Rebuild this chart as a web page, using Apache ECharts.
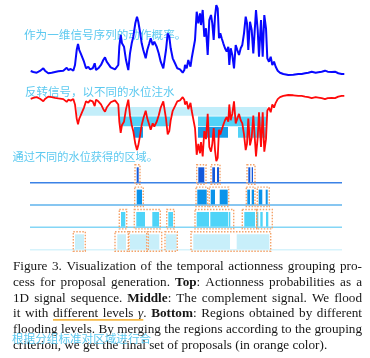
<!DOCTYPE html>
<html><head><meta charset="utf-8">
<script src="https://cdn.jsdelivr.net/npm/echarts@6/dist/echarts.min.js"></script>
<style>html,body{margin:0;padding:0;background:#fff}#c{width:370px;height:358px}</style>
</head><body><div id="c"></div>
<script>
// ---- data ----
const timeSteps = [0.7,3.3,6.7,10,13.3,15,18.3,21.7,25,28.3,30,33.3,36.7,38.3,40.7,43.3,45,46.7,48,49.3,50.7,52.7,54,56,58.3,60,62.7,64.7,66,68.3,71,73.3,75,76.7,78.7,80.7,82.7,85,86.7,88.3,89.3,90.7,92,94,96,98.3,100,101.7,103.3,105.3,107,108.3,110,111.7,113.3,115.7,117.3,119.3,120.7,122.7,124.3,126.7,128.7,130.7,133.3,136,137.7,139.3,140.7,142.7,145,147.3,150,152.7,154.3,155,156.7,158.3,159.3,160.5,161.7,163.3,165,166.7,168.3,170,171,172.7,174.3,176,177.7,179.3,181,182.3,183.7,185,186.3,187.7,189,190.3,191.7,193.3,195,196.7,198.3,199.3,200.7,202.3,204,205.7,207.3,209,210.7,212.3,214,215.7,217,218.3,220,221.7,223.3,226,227.7,229,231,232.7,234.3,236,237.3,239,240.7,242.3,244,245.7,247.7,250,253.3,258.3,263.3,268.3,271.7,275,278.3,281.7,283.3,285.7,288.3,291.7,295,297.7,301.7,305,308.3,311.7,314.3];
const actionness = [0.056,0.042,0.032,0.056,0.093,0.06,0.024,0.032,0.042,0.051,0.032,0.06,0.101,0.069,0.083,0.06,0.139,0.347,0.431,0.347,0.301,0.324,0.185,0.093,0.115,0.079,0.093,0.163,0.069,0.093,0.139,0.208,0.246,0.185,0.163,0.107,0.093,0.079,0.06,0.139,0.393,0.556,0.44,0.393,0.208,0.069,0.301,0.44,0.532,0.718,0.81,0.74,0.601,0.44,0.347,0.232,0.347,0.44,0.51,0.417,0.463,0.393,0.301,0.185,0.093,0.347,0.579,0.532,0.371,0.232,0.163,0.093,0.079,0.032,0.069,0.139,0.093,0.208,0.222,0.115,0.232,0.254,0.486,0.879,0.718,0.857,0.694,0.903,0.532,0.649,0.278,0.764,0.833,0.718,0.486,0.81,0.972,0.926,0.51,0.579,0.51,0.44,0.371,0.324,0.393,0.139,0.371,0.278,0.093,0.417,0.347,0.278,0.371,0.417,0.579,0.81,0.718,0.347,0.74,0.625,0.301,0.903,0.625,0.254,0.764,0.254,0.833,0.649,0.232,0.185,0.254,0.139,0.185,0.115,0.06,0.032,0.014,0,0.004,0.014,0.014,0.024,0.032,0.046,0.069,0.032,0.038,0.046,0.06,0.046,0.042,0.046,0.024,0.014,0.014];

// flooding levels (on the complement signal) and flooded extents per level
const floodLevels = [0.176, 0.316, 0.47, 0.64];
const waterLevel1 = [[47,237]];
const waterLevel2 = [[90,140],[168,237]];
const waterLevel3 = [[104,113],[168,198]];
const waterLevel3Shallow = [[208,237]];

// regions per flooding level (row 1 = highest level)
const regionsRow1 = [[106.7,108.7],[168.3,174.3],[182.3,185],[187,189],[218.3,220.3],[221.7,223]];
const regionsRow2 = [[106.7,112],[167.3,176.7],[180.7,185],[189.7,197.7],[217.3,220],[221.7,224],[228.7,232.3],[235.7,237.7]];
const regionsRow3 = [[91,95.3],[106.3,115],[122.3,129],[138.3,143],[166.7,179],[180.3,198.3],[199,200.3],[214.3,225],[226.7,228.3],[230.3,232.7],[236,238.3]];
const regionsRow4 = [[45,54],[87.3,96],[100,117.3],[117.7,129.3],[136,146.7],[163.3,200],[206.7,239.3]];
// merged proposals (orange)
const proposalsRow1 = [[105,110],[166.7,176],[181,190],[217,225]];
const proposalsRow2 = [[104.7,113.3],[166,177.7],[179.3,198.7],[216.3,225],[227.3,239.3]];
const proposalsRow3 = [[89.3,96.7],[104.3,130.3],[136.7,144.3],[165,203.7],[212.3,226.7],[226.7,242.3]];
const proposalsRow4 = [[43.3,55.3],[85,98.3],[99,118.3],[116.7,131.7],[135,147.3],[161,240.7]];

const cnTop = '作为一维信号序列的动作概率。';
const cnMid = '反转信号，以不同的水位注水';
const cnBot = '通过不同的水位获得的区域。';
const cnCap = '根据分组标准对区域进行合';
const captionLines = [
  'Figure 3. Visualization of the temporal actionness grouping pro-',
  'cess for proposal generation. *Top*: Actionness probabilities as a',
  '1D signal sequence. *Middle*: The complement signal. We flood',
  'it with ^different levels _γ_^. *Bottom*: Regions obtained by different',
  'flooding levels. By merging the regions according to the grouping',
  'criterion, we get the final set of proposals (in orange color).'
];

// ---- styles ----
const rowBarColors = ['#1458da', '#0b93ea', '#4fd4f8', '#c8effa'];
const rowLineColors = ['#3b82e6', '#5fb3ec', '#84d6f6', '#d6f3fc'];
const waterColors = ['#c3eefa', '#52d2f7', '#179de8'];
const BAR_H = 0.69;

const chart = echarts.init(document.getElementById('c'), null, {renderer: 'canvas'});

const series = [];
series.push({type:'line', xAxisIndex:0, yAxisIndex:0, data: timeSteps.map((t,i)=>[t, actionness[i]]),
  symbol:'none', lineStyle:{color:'#0808ff', width:2}, z:3, silent:true});
// water rectangles: [topLevel, bottomLevel, t0, t1, colorIndex]
const waterData = [];
waterLevel1.forEach(s => waterData.push([floodLevels[0], floodLevels[1], s[0], s[1], 0]));
waterLevel2.forEach(s => waterData.push([floodLevels[1], floodLevels[2], s[0], s[1], 1]));
waterLevel3.forEach(s => waterData.push([floodLevels[2], floodLevels[3], s[0], s[1], 2]));
waterLevel3Shallow.forEach(s => waterData.push([floodLevels[2], floodLevels[3], s[0], s[1], 1]));
series.push({type:'custom', xAxisIndex:1, yAxisIndex:1, z:1, silent:true, data: waterData,
  renderItem:(p, api) => { const a = api.coord([api.value(2), api.value(0)]); const b = api.coord([api.value(3), api.value(1)]);
    return {type:'rect', shape:{x:a[0], y:a[1], width:b[0]-a[0], height:b[1]-a[1]-0.8}, style:{fill: waterColors[api.value(4)]}}; }});
series.push({type:'line', xAxisIndex:1, yAxisIndex:1, data: timeSteps.map((t,i)=>[t, actionness[i]]),
  symbol:'none', lineStyle:{color:'#ff0a0a', width:1.8}, z:3, silent:true});

// bottom rows
const rows = [regionsRow1, regionsRow2, regionsRow3, regionsRow4];
const props = [proposalsRow1, proposalsRow2, proposalsRow3, proposalsRow4];
const lineData = [[1,0,312],[2,0,312],[3,0,312],[4,0,312]];
series.push({type:'custom', xAxisIndex:2, yAxisIndex:2, z:2, silent:true, data: lineData,
  renderItem:(p, api) => { const r = api.value(0); const a = api.coord([api.value(1), r]); const b = api.coord([api.value(2), r]);
    return {type:'line', shape:{x1:a[0], y1:a[1], x2:b[0], y2:b[1]}, style:{stroke: rowLineColors[r-1], lineWidth:1.5}}; }});
const barData = []; rows.forEach((arr, ri) => arr.forEach(s => barData.push([ri+1, s[0], s[1]])));
series.push({type:'custom', xAxisIndex:2, yAxisIndex:2, z:3, silent:true, data: barData,
  renderItem:(p, api) => { const r = api.value(0); const a = api.coord([api.value(1), r - BAR_H]); const b = api.coord([api.value(2), r]);
    return {type:'rect', shape:{x:a[0], y:a[1], width:b[0]-a[0], height:b[1]-a[1]-0.7}, style:{fill: rowBarColors[r-1]}}; }});
const propData = []; props.forEach((arr, ri) => arr.forEach(s => propData.push([ri+1, s[0], s[1]])));
series.push({type:'custom', xAxisIndex:2, yAxisIndex:2, z:4, silent:true, data: propData,
  renderItem:(p, api) => { const r = api.value(0); const a = api.coord([api.value(1), r - BAR_H]); const b = api.coord([api.value(2), r]);
    return {type:'rect', shape:{x:a[0], y:a[1]-2.5, width:b[0]-a[0], height:b[1]-a[1]+4}, style:{fill:'none', stroke:'#f4a36a', lineWidth:1.4, lineDash:[1.5,1.5]}}; }});

// ---- caption layout (justified) ----
const CAP_FONT = '"Liberation Serif", "Times New Roman", serif';
const CAP_SIZE = 13.2;
function fontOf(seg){ return (seg.italic?'italic ':'') + (seg.bold?'bold ':'') + CAP_SIZE + 'px ' + CAP_FONT; }
const graphics = [];
(function(){
  const ctx = document.createElement('canvas').getContext('2d');
  const left = 13, right = 362, top0 = 266.5, gapY = 15.8;
  captionLines.forEach((line, li) => {
    const st = {bold:false, italic:false, under:false};
    const words = line.split(' ').map(w => {
      const segs = []; let cur = '';
      const flush = () => { if (cur) { segs.push({text:cur, bold:st.bold, italic:st.italic, under:st.under}); cur=''; } };
      for (const ch of w) {
        if (ch === '*') { flush(); st.bold = !st.bold; }
        else if (ch === '_') { flush(); st.italic = !st.italic; }
        else if (ch === '^') { flush(); st.under = !st.under; }
        else cur += ch;
      }
      flush(); return segs;
    });
    const width = s => { ctx.font = fontOf(s); return ctx.measureText(s.text).width; };
    const wW = words.map(w => w.reduce((a,s)=>a+width(s),0));
    const total = wW.reduce((a,b)=>a+b,0);
    ctx.font = fontOf({}); const sp = ctx.measureText(' ').width;
    const last = li === captionLines.length-1;
    const gap = last ? sp : (right-left-total)/(words.length-1);
    let x = left; const y = top0 + li*gapY; let ux0 = null, ux1 = null;
    words.forEach(w => { w.forEach(s => {
      graphics.push({type:'text', z:5, silent:true, style:{text:s.text, x:x, y:y, font:fontOf(s), fill:'#161616', verticalAlign:'middle', textVerticalAlign:'middle'}});
      const ww = width(s); if (s.under) { if (ux0===null) ux0 = x; ux1 = x+ww; } x += ww; }); x += gap; });
    if (ux0 !== null) graphics.push({type:'line', z:5, silent:true, shape:{x1:ux0, y1:y+6, x2:ux1, y2:y+6}, style:{stroke:'#f6b845', lineWidth:1.6}});
  });
})();
const CN_FONT = '"Noto Sans CJK SC", sans-serif';
graphics.push({type:'text', z:1, silent:true, style:{text:cnTop, x:24, y:35, font:'11.6px '+CN_FONT, fill:'#5cc9f0', verticalAlign:'middle', textVerticalAlign:'middle'}});
graphics.push({type:'text', z:1, silent:true, style:{text:cnMid, x:25, y:92, font:'11.5px '+CN_FONT, fill:'#5cc9f0', verticalAlign:'middle', textVerticalAlign:'middle'}});
graphics.push({type:'text', z:1, silent:true, style:{text:cnBot, x:12.5, y:157, font:'11.2px '+CN_FONT, fill:'#5cc9f0', verticalAlign:'middle', textVerticalAlign:'middle'}});
graphics.push({type:'text', z:6, silent:true, style:{text:cnCap, x:12, y:339, font:'11.6px '+CN_FONT, fill:'#5cc9f0', verticalAlign:'middle', textVerticalAlign:'middle'}});

const hiddenX = i => ({type:'value', gridIndex:i, min:0, max:315, show:false});
chart.setOption({
  animation:false,
  backgroundColor:'#fff',
  grid:[
    {left:30, width:315, top:3, height:72},
    {left:30, width:315, top:95, height:68},
    {left:30, width:315, top:160.37, height:89.33}
  ],
  xAxis:[hiddenX(0), hiddenX(1), hiddenX(2)],
  yAxis:[
    {type:'value', gridIndex:0, min:0, max:1, show:false},
    {type:'value', gridIndex:1, min:0, max:1, inverse:true, show:false},
    {type:'value', gridIndex:2, min:0, max:4, inverse:true, show:false}
  ],
  series: series,
  graphic: {elements: graphics}
});
</script></body></html>
